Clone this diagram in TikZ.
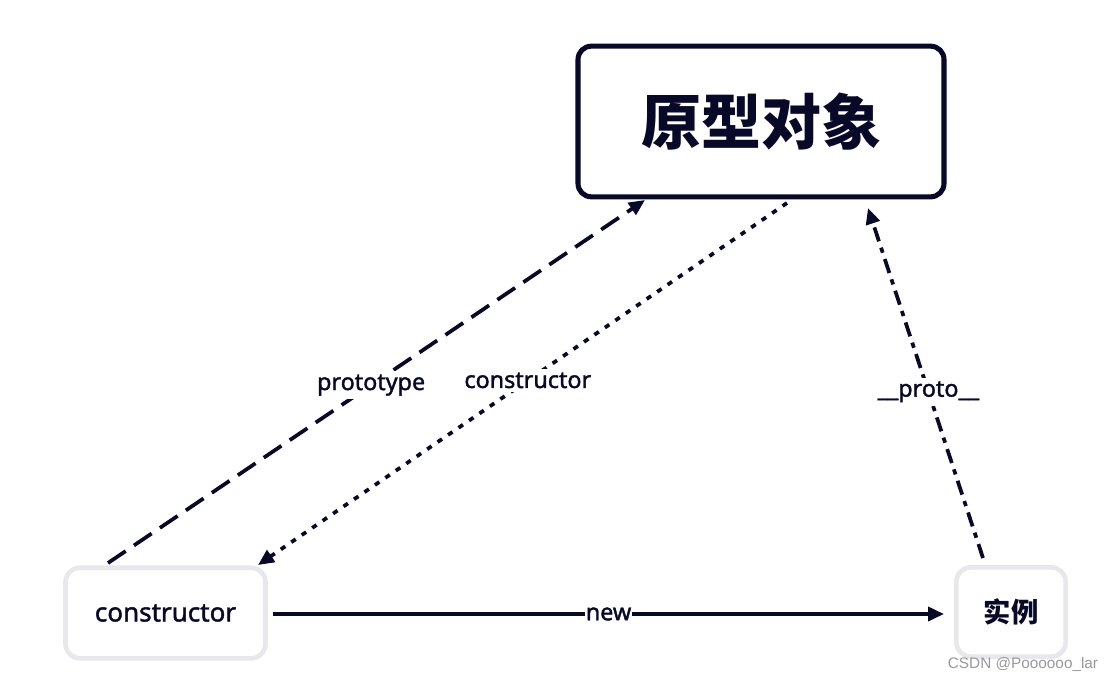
\documentclass[tikz,border=0pt]{standalone}
\usepackage{fontspec}
\setmainfont{Noto Sans}[AutoFakeBold=1.6]
\newfontfamily\cjk{Noto Sans CJK SC}
\newfontfamily\wmfont{Liberation Sans}
\usetikzlibrary{arrows.meta}
\definecolor{ink}{RGB}{8,8,40}
\definecolor{boxgray}{RGB}{232,232,236}
\tikzset{
  bigbox/.style={draw=ink, line width=3.8pt, rounded corners=10pt, minimum width=274.5pt, minimum height=113pt, text=ink, font=\cjk\bfseries\fontsize{45}{50}\selectfont},
  smallbox/.style={draw=boxgray, line width=3.5pt, rounded corners=11pt, text=ink, font=\bfseries\fontsize{19.5}{22}\selectfont},
  conn/.style={draw=ink, line width=2.8pt, -{Triangle[length=12pt,width=10.5pt]}},
  lbl/.style={fill=white, text=ink, inner sep=2.5pt, font=\bfseries\fontsize{17.5}{20}\selectfont},
}
\begin{document}
\begin{tikzpicture}[x=0.75pt,y=-0.75pt]
\useasboundingbox (0,0) rectangle (1116,682);
\node[bigbox] (proto) at (761,121.5) {原型对象};
\node[smallbox, minimum width=150pt, minimum height=68pt] (ctor) at (165.5,613) {constructor};
\node[smallbox, minimum width=82pt, minimum height=67pt, font=\cjk\bfseries\fontsize{20.5}{22}\selectfont] (inst) at (1011,612) {实例};
\coordinate (a1) at (108,563);
\coordinate (a2) at (645,200);
\coordinate (b1) at (787,203);
\coordinate (b2) at (258,565);
\coordinate (c1) at (983,558);
\coordinate (c2) at (868,208);
\coordinate (d1) at (273,614);
\coordinate (d2) at (944,614);
\draw[conn, dash pattern=on 16pt off 7.5pt] (a1) -- node[lbl, pos=0.49] (lp) {prototype} (a2);
\draw[conn, dash pattern=on 4pt off 5.5pt] (b1) -- node[lbl, pos=0.49] (lc) {constructor} (b2);
\draw[conn, dash pattern=on 11pt off 5pt on 4pt off 5pt] (c1) -- node[lbl, pos=0.475] (lpr) {\_\_proto\_\_} (c2);
\draw[conn] (d1) -- node[lbl, inner sep=0.5pt] (ln) {new} (d2);
\node[text=gray!80, font=\wmfont\fontsize{11.5}{13}\selectfont] (wm) at (1023,664) {CSDN @Poooooo\_lar};
\end{tikzpicture}
\end{document}
